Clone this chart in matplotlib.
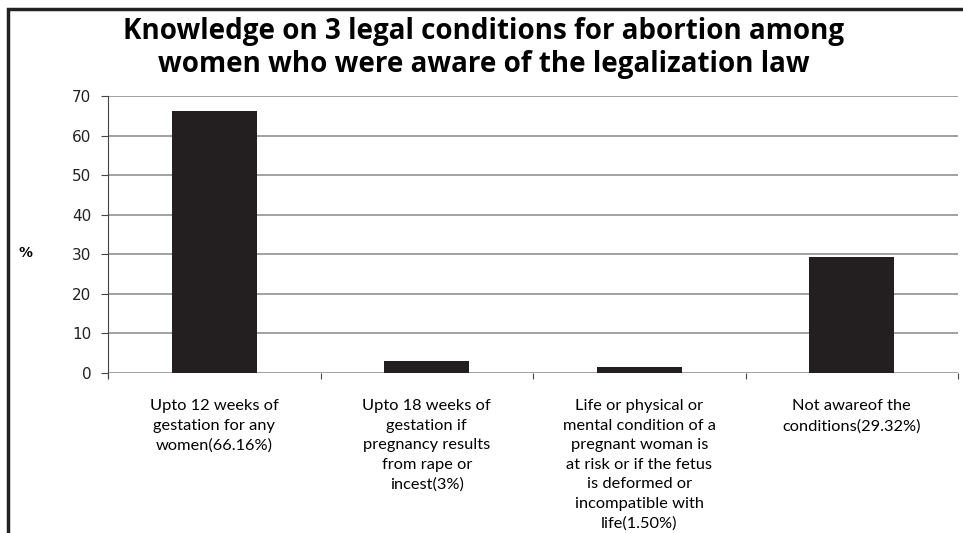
import matplotlib
matplotlib.use("Agg")
import matplotlib.pyplot as plt
from matplotlib.patches import Rectangle

categories = [
    "Upto 12 weeks of\ngestation for any\nwomen(66.16%)",
    "Upto 18 weeks of\ngestation if\npregnancy results\nfrom rape or\nincest(3%)",
    "Life or physical or\nmental condition of a\npregnant woman is\nat risk or if the fetus\nis deformed or\nincompatible with\nlife(1.50%)",
    "Not awareof the\nconditions(29.32%)",
]
values = [66.16, 3.0, 1.5, 29.32]
yticks = [0, 10, 20, 30, 40, 50, 60, 70]

fig = plt.figure(figsize=(9.63, 5.33), dpi=100)
ax = fig.add_axes([108 / 963, 1 - 373 / 533, 850 / 963, 277 / 533])

x = list(range(len(values)))
ax.bar(x, values, width=0.4, color="#231f20", zorder=3)
ax.set_xlim(-0.5, len(values) - 0.5)
ax.set_ylim(0, 70)

ax.set_yticks(yticks)
ax.set_yticklabels([str(t) for t in yticks], family="DejaVu Sans", fontsize=11, color="#222222")
ax.yaxis.grid(True, color="#9a9a9a", linewidth=1.3, zorder=0)
ax.tick_params(axis="y", length=5, width=0.8, color="#444444", pad=7)

ax.set_xticks(x)
ax.set_xticklabels(categories, family="Lato", fontsize=11.8, linespacing=1.5, va="top")
ax.tick_params(axis="x", which="major", length=0, pad=19)
ax.set_xticks([i - 0.5 for i in range(len(values) + 1)], minor=True)
ax.tick_params(axis="x", which="minor", length=4, width=0.8, color="#444444", direction="out")

for s in ["top", "right", "bottom"]:
    ax.spines[s].set_visible(False)
ax.spines["left"].set_color("#444444")
ax.spines["left"].set_bounds(-1.3, 70)

fig.text(25 / 963, 1 - 253 / 533, "%", fontsize=10, fontweight="bold",
         family="DejaVu Sans", ha="center", va="center")
fig.text(484 / 963, 1 - 48 / 533,
         "Knowledge on 3 legal conditions for abortion among\nwomen who were aware of the legalization law",
         ha="center", va="center", fontsize=20, fontweight="bold",
         family="Open Sans", linespacing=1.18)

fig.patches.append(Rectangle((8 / 963, -0.1), 1.0, 1.1 - 9 / 533,
                             transform=fig.transFigure, fill=False,
                             edgecolor="#222222", linewidth=2.5))

fig.savefig("out.png", dpi=100)
